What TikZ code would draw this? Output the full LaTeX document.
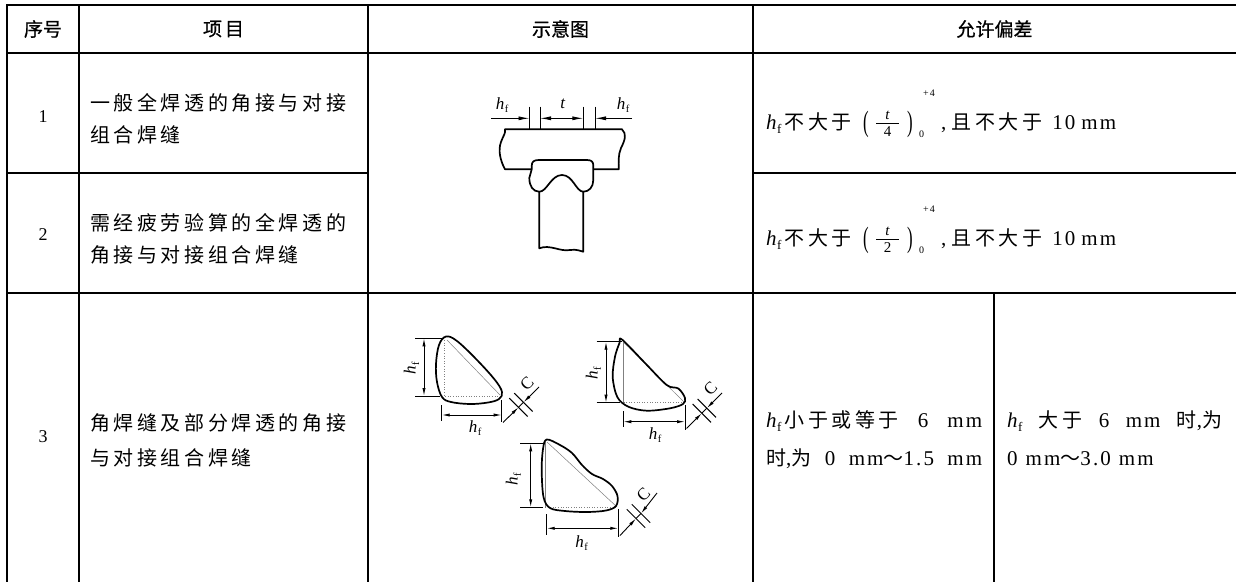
\documentclass[tikz,border=0pt]{standalone}
\usepackage{graphicx}
\usepackage{fontspec}
\usetikzlibrary{arrows.meta}
\setmainfont{Liberation Serif}[LetterSpace=10]
\newfontfamily\cjk{Noto Sans CJK SC}[LetterSpace=18]
\newfontfamily\cjkn{Noto Sans CJK SC}
\newfontfamily\cjkh{Noto Sans CJK SC}[FakeBold=0.7]
\newcommand{\zh}[1]{{\fontsize{20pt}{24pt}\cjk #1}}
\newcommand{\zhn}[1]{{\fontsize{20pt}{24pt}\cjkn #1}}
\newcommand{\hf}{{\itshape h}\hspace{0.5pt}\raisebox{-0.2em}{\scalebox{0.62}{f}}}
\newcommand{\fracstack}[1]{\shortstack{{\itshape t}\\\rule{23pt}{0.8pt}\\#1}}
\tikzset{
  tabframe/.style={line width=2pt, line cap=rect},
  tabline/.style={line width=1.1pt},
  headtxt/.style={inner sep=0pt, font=\fontsize{19pt}{22pt}\selectfont\cjkh},
  bodytxt/.style={inner sep=0pt, font=\fontsize{21pt}{25pt}\selectfont},
  numtxt/.style={inner sep=0pt, font=\fontsize{18pt}{22pt}\selectfont},
  fractxt/.style={inner sep=0pt, font=\fontsize{15pt}{15pt}\selectfont},
  scrtxt/.style={inner sep=0pt, font=\fontsize{10pt}{10pt}\selectfont},
  outline/.style={line width=1.7pt, line join=round},
  thinline/.style={line width=1pt},
  dimline/.style={line width=0.9pt},
  guide/.style={line width=0.5pt, gray},
  guidedot/.style={line width=0.6pt, gray, dotted},
  dimlab/.style={inner sep=0pt, font=\fontsize{17pt}{17pt}\selectfont},
  bigdim/.style={line width=0.9pt, >={Latex[length=11pt,width=4pt]}},
}
\begin{document}
\begin{tikzpicture}[x=1pt,y=-1pt,>={Latex[length=8pt,width=3.2pt]}]
\useasboundingbox (0,0) rectangle (1236,581);
% ---------------- table rules
\draw[tabframe] (7,5) -- (1240,5);
\draw[tabframe] (7,53) -- (1240,53);
\draw[tabframe] (7,5) -- (7,590);
\draw[tabline] (79,5) -- (79,590);
\draw[tabline] (368,5) -- (368,590);
\draw[tabline] (753,5) -- (753,590);
\draw[tabline] (7,173) -- (368,173);
\draw[tabline] (753,173) -- (1240,173);
\draw[tabline] (7,293) -- (1240,293);
\draw[tabline] (994,293) -- (994,590);
% ---------------- header
\node[headtxt] (hA) at (43,29) {序号};
\node[headtxt] (hB) at (223.5,29) {项\hspace{3pt}目};
\node[headtxt] (hC) at (560.5,29) {示意图};
\node[headtxt] (hD) at (994.5,29) {允许偏差};
% ---------------- column 1
\node[numtxt] (n1) at (43,117) {1};
\node[numtxt] (n2) at (43,235) {2};
\node[numtxt] (n3) at (43,437) {3};
% ---------------- column 2
\node[bodytxt, anchor=west] (a1) at (90,103) {\zh{一般全焊透的角接与对接}};
\node[bodytxt, anchor=west] (a2) at (90,135) {\zh{组合焊缝}};
\node[bodytxt, anchor=west] (b1) at (90,223) {\zh{需经疲劳验算的全焊透的}};
\node[bodytxt, anchor=west] (b2) at (90,255) {\zh{角接与对接组合焊缝}};
\node[bodytxt, anchor=west] (c1) at (90,423) {\zh{角焊缝及部分焊透的角接}};
\node[bodytxt, anchor=west] (c2) at (90,458) {\zh{与对接组合焊缝}};
% ---------------- column 4, row 1
\node[bodytxt, anchor=base west] (r1a) at (766,129.1) {\hf\hspace{3pt}\zh{不大于}};
\node[bodytxt] (r1lp) at (866,124) {\scalebox{0.8}[1.4]{(}};
\node[fractxt] (r1f) at (887.5,124) {\fracstack{4}};
\node[bodytxt] (r1rp) at (910,124) {\scalebox{0.8}[1.4]{)}};
\node[scrtxt] (r1sup) at (929,93.5) {+4};
\node[scrtxt] (r1sub) at (921.5,134) {0};
\node[bodytxt, anchor=base west] (r1b) at (941,129.1) {,\hspace{5pt}\zh{且不大于}\hspace{10pt}10\hspace{6pt}mm};
% ---------------- column 4, row 2
\node[bodytxt, anchor=base west] (r2a) at (766,245.1) {\hf\hspace{3pt}\zh{不大于}};
\node[bodytxt] (r2lp) at (866,240) {\scalebox{0.8}[1.4]{(}};
\node[fractxt] (r2f) at (887.5,240) {\fracstack{2}};
\node[bodytxt] (r2rp) at (910,240) {\scalebox{0.8}[1.4]{)}};
\node[scrtxt] (r2sup) at (929,209.5) {+4};
\node[scrtxt] (r2sub) at (921.5,250) {0};
\node[bodytxt, anchor=base west] (r2b) at (941,245.1) {,\hspace{5pt}\zh{且不大于}\hspace{10pt}10\hspace{6pt}mm};
% ---------------- column 4, row 3
\node[bodytxt, anchor=base west] (t3a) at (766,427.6)
  {\makebox[216pt][s]{\hf\hspace{3pt}\zh{小于或等于} 6 mm}};
\node[bodytxt, anchor=base west] (t3b) at (766,465.6)
  {\makebox[216pt][s]{\zh{时},\zh{为} 0 mm\zhn{～}1.5 mm}};
\node[bodytxt, anchor=base west] (t4a) at (1007,427.6)
  {\makebox[215pt][s]{\hf\ \zh{大于} 6 mm \zh{时},\zh{为}}};
\node[bodytxt, anchor=base west] (t4b) at (1007,465.6)
  {0\hspace{8pt}mm\zhn{～}3.0\hspace{8pt}mm};
% ---------------- sketch rows 1-2
\draw[outline] (531.7,169.3) -- (505,169.3)
  .. controls (500,160) and (498,150) .. (501,142)
  .. controls (503,136) and (506,133) .. (505,129.3)
  -- (622,129.3)
  .. controls (627,134) and (625,140) .. (621,148)
  .. controls (618,155) and (618.7,162) .. (618.7,169.3)
  -- (593.3,169.3);
\draw[outline] (531.7,169.3) -- (531.7,166)
  .. controls (531.7,161.5) and (534,160) .. (539,160) -- (587,160)
  .. controls (592,160) and (593.3,162) .. (593.3,166) -- (593.3,180)
  .. controls (593.3,187) and (589,191.7) .. (583.3,191.7)
  .. controls (576,191.7) and (573,175) .. (562,175)
  .. controls (551,175) and (547,191.7) .. (539.3,191.7)
  .. controls (533,191.7) and (529.3,186) .. (529.3,178) -- (531.7,169.3);
\draw[outline] (539.3,191.7) -- (539.3,248.3)
  .. controls (550,244) and (560,252) .. (570,250)
  .. controls (577,249) and (580,251) .. (583.3,251.7) -- (583.3,191.7);
\coordinate (e1) at (529.5,106.7);
\coordinate (e2) at (540,106.7);
\coordinate (e3) at (583.3,106.7);
\coordinate (e4) at (595,106.7);
\draw[thinline] (e1) -- (529.5,129.3) (e2) -- (540,129.3) (e3) -- (583.3,129.3) (e4) -- (595,129.3);
\coordinate (dl) at (491,118.3);
\coordinate (dr) at (632,118.3);
\draw[bigdim,->] (dl) -- (529.5,118.3);
\draw[bigdim,<->] (540,118.3) -- (583.3,118.3);
\draw[bigdim,->] (dr) -- (595,118.3);
\node[dimlab] (lh1) at (502,105) {\hf};
\node[dimlab] (lt) at (562.7,104) {\itshape t};
\node[dimlab] (lh2) at (623,105) {\hf};
% ---------------- sketch row 3 : shape A
\draw[guidedot] (444,340) -- (444,396) -- (500,396);
\draw[guide] (447,340) -- (500,395);
\draw[outline] plot[smooth cycle, tension=0.6] coordinates {
  (446,336.5) (457,341) (477,360) (495,380) (502,392) (499,399) (488,402.5)
  (470,404) (451,402) (442,397) (437,382) (436,364) (439,345)};
\draw[thinline] (415,338.3) -- (443,338.3) (415,396) -- (440,396);
\draw[dimline,<->] (424,338.3) -- (424,396);
\node[dimlab, rotate=90] (ahv) at (411.5,368) {\hf};
\draw[thinline] (441.7,405) -- (441.7,421) (501.7,400) -- (501.7,422);
\draw[dimline,<->] (441.7,415) -- (501.7,415);
\node[dimlab] (ahh) at (475,428) {\hf};
\coordinate (ap1) at (503,422.5);
\coordinate (ap2) at (539,387);
\coordinate (al1) at (518.5,407.3);
\coordinate (al2) at (523.5,402.3);
\draw[dimline] (al1) -- (al2);
\draw[dimline,->] (ap1) -- (al1);
\draw[dimline,->] (ap2) -- (al2);
\draw[thinline] (509.3,398.1) -- (527.7,416.5) (514.3,393.1) -- (532.7,411.5);
\node[dimlab, rotate=45] (ac) at (527,383.5) {C};
% ---------------- shape B
\draw[guidedot] (684,402.7) -- (623.3,402.7);
\draw[guide] (623.3,342) -- (623.3,402.7);
\draw[guide] (623.3,342) -- (684,402);
\draw[outline] plot[smooth cycle, tension=0.55] coordinates {
  (622,339.5) (645,363) (666.7,385) (678.3,388.5) (685,398) (683,404)
  (670,408.3) (646.7,410.7) (628.3,406.7) (617.3,397) (612.7,377) (615,356.7) (619.5,343)};
\draw[thinline] (596.7,341.7) -- (621.7,341.7) (596.7,402.7) -- (620,402.7);
\draw[dimline,<->] (606,341.7) -- (606,402.7);
\node[dimlab, rotate=90] (bhv) at (593.3,373) {\hf};
\draw[thinline] (623.3,411) -- (623.3,427) (685,405) -- (685,430);
\draw[dimline,<->] (623.3,421.7) -- (685,421.7);
\node[dimlab] (bhh) at (655,435) {\hf};
\coordinate (bp1) at (686.5,428.5);
\coordinate (bp2) at (722,393);
\coordinate (bl1) at (701.8,413.2);
\coordinate (bl2) at (706.8,408.2);
\draw[dimline] (bl1) -- (bl2);
\draw[dimline,->] (bp1) -- (bl1);
\draw[dimline,->] (bp2) -- (bl2);
\draw[thinline] (692.6,404) -- (711,422.4) (697.6,399) -- (716,417.4);
\node[dimlab, rotate=45] (bc) at (710.5,388.5) {C};
% ---------------- shape C
\draw[guidedot] (545,507.3) -- (617,507.3);
\draw[guide] (545,442) -- (545,507.3);
\draw[guide] (547,442) -- (617,507);
\draw[outline] plot[smooth cycle, tension=0.55] coordinates {
  (546.7,439.5) (560,445) (572,453) (582,465) (592,474) (603,479) (612,486)
  (617.5,496) (616,506) (606,510.5) (587,512) (565,511) (550,508) (543.5,497)
  (541.7,470) (543,449)};
\draw[thinline] (520,443.3) -- (545,443.3) (520,507.3) -- (543,507.3);
\draw[dimline,<->] (530.7,443.3) -- (530.7,507.3);
\node[dimlab, rotate=90] (chv) at (513.3,479) {\hf};
\draw[thinline] (546.7,514) -- (546.7,535) (618.3,509) -- (618.3,537);
\draw[dimline,<->] (546.7,528.3) -- (618.3,528.3);
\node[dimlab] (chh) at (581.7,543) {\hf};
\coordinate (cp1) at (620,535.5);
\coordinate (cp2) at (657,493);
\coordinate (cl1) at (636,518.5);
\coordinate (cl2) at (641,513.5);
\draw[dimline] (cl1) -- (cl2);
\draw[dimline,->] (cp1) -- (cl1);
\draw[dimline,->] (cp2) -- (cl2);
\draw[thinline] (626.8,509.3) -- (645.2,527.7) (631.8,504.3) -- (650.2,522.7);
\node[dimlab, rotate=45] (cc) at (643.5,494.5) {C};
\end{tikzpicture}
\end{document}
